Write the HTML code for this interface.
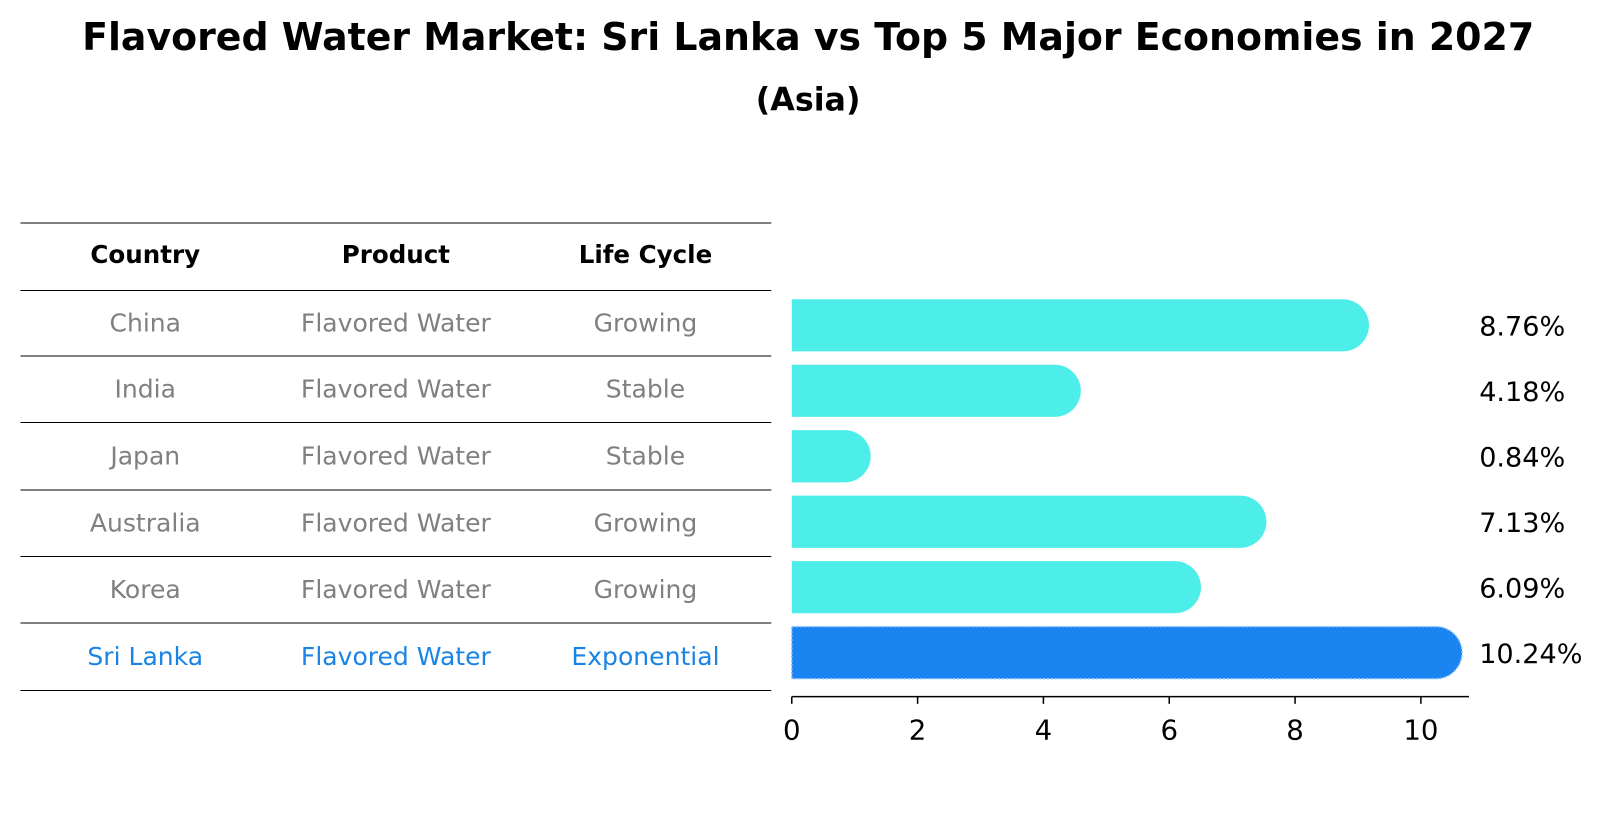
<!DOCTYPE html>
<html><head><meta charset="utf-8"><style>
body{margin:0;background:#fff;font-family:"Liberation Sans","DejaVu Sans",sans-serif;}
#wrap{position:relative;width:1604px;height:823px;overflow:hidden;}
</style></head><body>
<div id="wrap">
<svg id="svg" width="1604" height="823" viewBox="0 0 1568 804.5" preserveAspectRatio="none" xmlns="http://www.w3.org/2000/svg">
<text x="790" y="49" text-anchor="middle" font-size="37" font-weight="bold" font-family="DejaVu Sans, sans-serif">Flavored Water Market: Sri Lanka vs Top 5 Major Economies in 2027</text>
<text x="790" y="108" text-anchor="middle" font-size="31" font-weight="bold" font-family="DejaVu Sans, sans-serif">(Asia)</text>
<g id="table"></g>
<g id="bars"></g>
</svg>
</div>
<script>
const countries=["China","India","Japan","Australia","Korea","Sri Lanka"];
const products=["Flavored Water","Flavored Water","Flavored Water","Flavored Water","Flavored Water","Flavored Water"];
const lifecycles=["Growing","Stable","Stable","Growing","Growing","Exponential"];
const values=[8.76,4.18,0.84,7.13,6.09,10.24];
const ticks=[0,2,4,6,8,10];
const NS="http://www.w3.org/2000/svg";
const tg=document.getElementById('table');
const bg=document.getElementById('bars');
function mk(tag,attrs,parent){const e=document.createElementNS(NS,tag);for(const k in attrs)e.setAttribute(k,attrs[k]);parent.appendChild(e);return e;}
const F="DejaVu Sans, sans-serif";
const lineYs=[218,284,348,413,479,544,609,675];
lineYs.forEach((y)=>{const l=mk('line',{x1:20,x2:754,y1:y,y2:y,stroke:'#000','stroke-width':1},tg);

});
const colX=[142,387,631];
["Country","Product","Life Cycle"].forEach((h,i)=>{const t=mk('text',{x:colX[i],y:257,'text-anchor':'middle','font-size':24,'font-weight':'bold','font-family':F},tg);t.textContent=h;

});
countries.forEach((c,r)=>{const y=(lineYs[r+1]+lineYs[r+2])/2+8;const col=r===5?'#1a84e6':'#808080';
[c,products[r],lifecycles[r]].forEach((v,i)=>{const t=mk('text',{x:colX[i],y:y,'text-anchor':'middle','font-size':24.5,fill:col,'font-family':F},tg);t.textContent=v;

});});
const x0=774,ppu=61.5;const xs=v=>x0+v*ppu;
const yc=i=>318+i*64;const h=51,rad=25.5;
values.forEach((v,i)=>{const last=i===values.length-1;const fill=last?'#1a84f0':'#4deeea';
const xe=xs(v);const y=yc(i)-h/2;
const p=mk('path',{d:`M${x0},${y} H${xe} A${rad},${rad} 0 0 1 ${xe},${y+h} H${x0} Z`,fill:fill},bg);
if(last){p.setAttribute('stroke','#8fc4ff');p.setAttribute('stroke-width','1.5');p.setAttribute('stroke-dasharray','2 2');}


const t=mk('text',{x:1446,y:yc(i)+10,'font-size':26.5,'font-family':F},bg);t.textContent=v.toFixed(2)+'%';

});
const ax=mk('line',{x1:x0,x2:1436,y1:681,y2:681,stroke:'#000','stroke-width':1.5},bg);


ticks.forEach(tv=>{const tl=mk('line',{x1:xs(tv),x2:xs(tv),y1:681,y2:688,stroke:'#000','stroke-width':1.5},bg);


const t=mk('text',{x:xs(tv),y:723,'text-anchor':'middle','font-size':27,'font-family':F},bg);t.textContent=tv;

});
</script>
</body></html>
